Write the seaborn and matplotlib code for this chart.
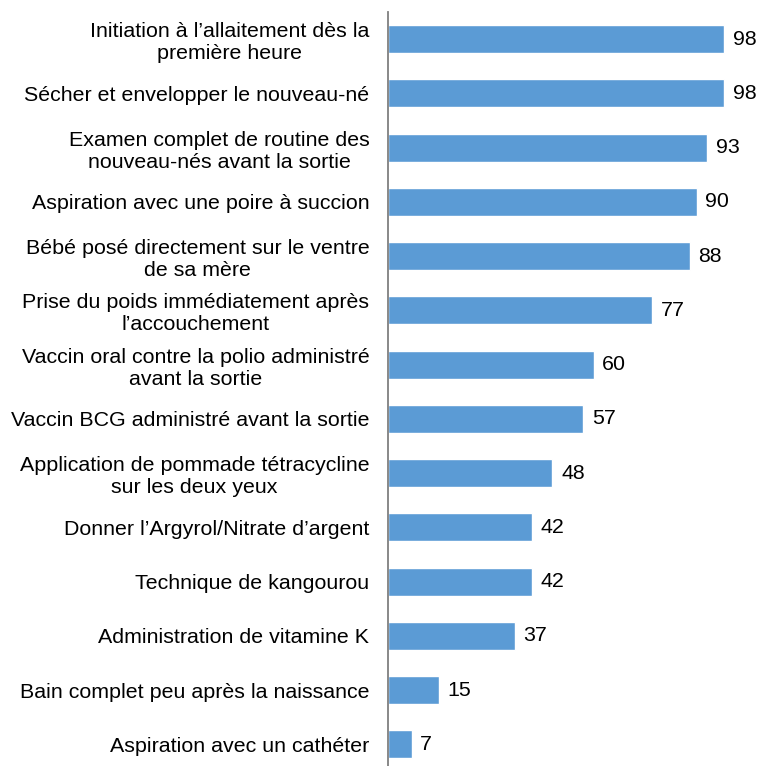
import matplotlib
matplotlib.use("Agg")
import matplotlib.pyplot as plt
import seaborn as sns
import pandas as pd

categories = [
    "Initiation à l’allaitement dès la\npremière heure",
    "Sécher et envelopper le nouveau-né",
    "Examen complet de routine des\nnouveau-nés avant la sortie",
    "Aspiration avec une poire à succion",
    "Bébé posé directement sur le ventre\nde sa mère",
    "Prise du poids immédiatement après\nl’accouchement",
    "Vaccin oral contre la polio administré\navant la sortie",
    "Vaccin BCG administré avant la sortie",
    "Application de pommade tétracycline\nsur les deux yeux",
    "Donner l’Argyrol/Nitrate d’argent",
    "Technique de kangourou",
    "Administration de vitamine K",
    "Bain complet peu après la naissance",
    "Aspiration avec un cathéter",
]
values = [98, 98, 93, 90, 88, 77, 60, 57, 48, 42, 42, 37, 15, 7]

df = pd.DataFrame({"categorie": categories, "pourcentage": values})

sns.set_style("white")
plt.rcParams["font.family"] = ["Liberation Sans", "DejaVu Sans"]

W, H = 759, 766
fig = plt.figure(figsize=(W / 100, H / 100), dpi=100)
left, right = 387.5, 731.0
top, bottom = 12.0, 771.5
ax = fig.add_axes([left / W, 1 - bottom / H, (right - left) / W, (bottom - top) / H])

sns.barplot(data=df, y="categorie", x="pourcentage", orient="h",
            color="#5B9BD5", saturation=1, width=0.52, ax=ax)

ax.set_xlim(0, 100)
ax.set_xlabel("")
ax.set_ylabel("")
ax.set_xticks([])
for s in ["top", "right", "bottom"]:
    ax.spines[s].set_visible(False)
ax.spines["left"].set_color("#7f7f7f")
ax.spines["left"].set_linewidth(1.3)
ax.tick_params(axis="y", length=0, pad=13, labelsize=15.4, labelcolor="black")
for t in ax.get_yticklabels():
    t.set_multialignment("center")
    t.set_linespacing(1.2)

for c in ax.containers:
    ax.bar_label(c, labels=[f"{v:g}" for v in c.datavalues], padding=6.3,
                 fontsize=15.4, color="black")

fig.savefig("out.png", dpi=100)
